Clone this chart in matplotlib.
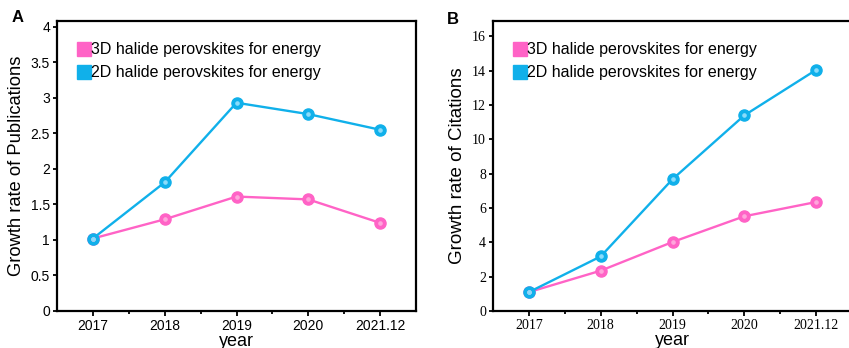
import numpy as np
import matplotlib
matplotlib.use("Agg")
import matplotlib.pyplot as plt
from matplotlib.lines import Line2D
from matplotlib.ticker import MultipleLocator, FormatStrFormatter

years = ["2017", "2018", "2019", "2020", "2021.12"]

# panel A: growth rate of publications
pub_3d = [1.02, 1.29, 1.61, 1.57, 1.24]
pub_2d = [1.02, 1.81, 2.93, 2.77, 2.55]

# panel B: growth rate of citations
cit_3d = [1.1, 2.35, 4.02, 5.52, 6.35]
cit_2d = [1.1, 3.18, 7.68, 11.4, 14.05]

labels = ["3D halide perovskites for energy", "2D halide perovskites for energy"]
pink = "#ff63c6"
blue = "#10b0ea"
pink_hi = "#ffa6dc"
blue_hi = "#8adcfb"

plt.rcParams["font.family"] = "Liberation Sans"

fig = plt.figure(figsize=(8.49, 3.48), dpi=100)
axA = fig.add_axes([57 / 849, 37 / 348, 359 / 849, 290 / 348])
axB = fig.add_axes([493 / 849, 37 / 348, 359 / 849, 290 / 348])


def draw(ax, s3, s2, ymax, ystep, ylabel, tick_font, ysize):
    x = np.arange(len(years))
    for vals, c, hi in [(s3, pink, pink_hi), (s2, blue, blue_hi)]:
        ax.plot(x, vals, color=c, lw=1.7, marker="o", ms=8,
                mfc=c, mec=c, zorder=3)
        ax.plot(x, vals, ls="none", marker="o", ms=2.3, mfc=hi, mec=hi, zorder=4)
    ax.set_xlim(-0.5, 4.5)
    ax.set_ylim(0, ymax)
    ax.set_xticks(x)
    ax.set_xticklabels(years)
    ax.set_xticks(x[:-1] + 0.5, minor=True)
    ax.yaxis.set_major_locator(MultipleLocator(ystep))
    ax.yaxis.set_major_formatter(FormatStrFormatter("%g"))
    ax.tick_params(axis="both", which="both", direction="out", width=1.3,
                   labelsize=10, pad=2)
    ax.tick_params(axis="both", which="major", length=3.5)
    ax.tick_params(axis="both", which="minor", length=2.5)
    ax.tick_params(axis="y", which="major", length=3)
    for lab in ax.get_xticklabels() + ax.get_yticklabels():
        lab.set_family(tick_font)
    for sp in ax.spines.values():
        sp.set_linewidth(1.6)
    ax.set_xlabel("year", fontsize=13, labelpad=0)
    ax.set_ylabel(ylabel, fontsize=ysize, labelpad=4)
    handles = [Line2D([], [], ls="none", marker="s", ms=9.5, mfc=c, mec=c)
               for c in (pink, blue)]
    ax.legend(handles, labels, loc="upper left", bbox_to_anchor=(0.03, 0.965),
              frameon=False, fontsize=11.5, handlelength=0.6, handletextpad=0.15,
              labelspacing=0.5, borderpad=0.2)


draw(axA, pub_3d, pub_2d, 4.08, 0.5, "Growth rate of Publications",
     "Liberation Sans", 13.2)
draw(axB, cit_3d, cit_2d, 16.9, 2, "Growth rate of Citations",
     "Liberation Serif", 13.5)

fig.text(12 / 849, 1 - 18 / 348, "A", fontsize=12, fontweight="bold", va="center")
fig.text(447 / 849, 1 - 19 / 348, "B", fontsize=12, fontweight="bold", va="center")

fig.savefig("out.png", dpi=100)
